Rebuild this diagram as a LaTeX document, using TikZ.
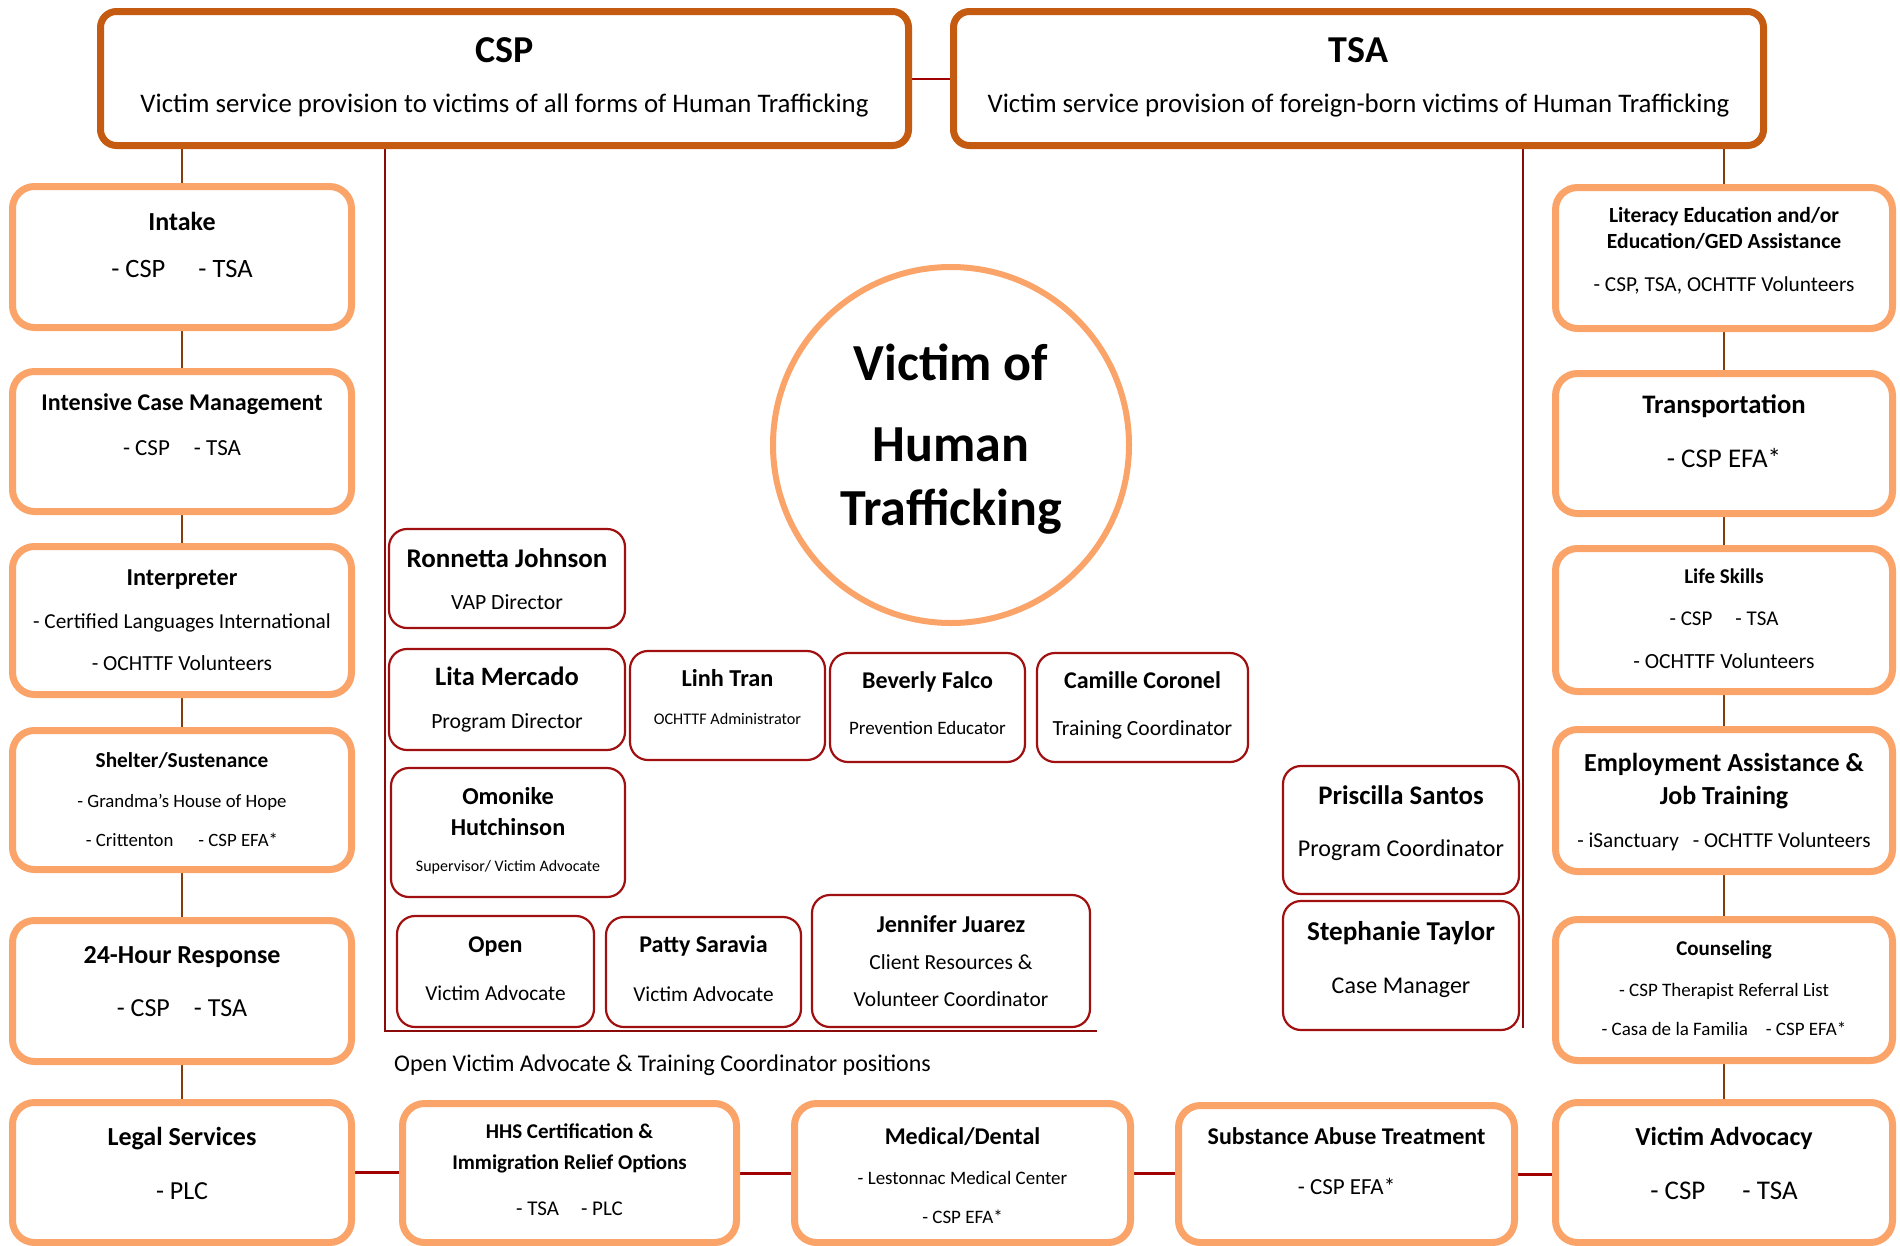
\documentclass[tikz,border=0pt]{standalone}
\usepackage{fontspec}
\setmainfont{Carlito}
\usetikzlibrary{backgrounds}
\definecolor{topc}{HTML}{C55A11}
\definecolor{svcc}{HTML}{FAA46A}
\definecolor{staffc}{HTML}{A01010}
\definecolor{redc}{HTML}{A00000}
\definecolor{framec}{HTML}{8B0A0A}
\definecolor{brownc}{HTML}{843C0C}
\tikzset{
 topbox/.style={draw=topc, line width=7pt, rounded corners=16pt, fill=white, inner sep=0pt, outer sep=0pt},
 svcbox/.style={draw=svcc, line width=7pt, rounded corners=22pt, fill=white, inner sep=0pt, outer sep=0pt},
 staffbox/.style={draw=staffc, line width=2.2pt, rounded corners=18pt, fill=white, inner sep=0pt, outer sep=0pt},
 txt/.style={inner sep=0pt, anchor=base, text=black},
 brownline/.style={draw=brownc, line width=2.5pt},
 redline/.style={draw=redc, line width=3pt},
 frameline/.style={draw=framec, line width=2pt},
}
\newcommand\mkbox[7]{\node[#1, minimum width={#6-#4-#2}, minimum height={#7-#5-#2}] (#3) at ({(#4+#6)/2},{(#5+#7)/2}) {};}
\newcommand\mktext[5]{\node[txt, font=\fontsize{#4}{#4}\selectfont] (#1) at ({#2},{#3+0.32*#4}) {#5};}
\begin{document}
\begin{tikzpicture}[x=1pt,y=-1pt]
\useasboundingbox (0,0) rectangle (1900,1245);
% top boxes
\mkbox{topbox}{7}{csp}{97}{8}{912}{149}
\mkbox{topbox}{7}{tsa}{950}{8}{1767}{149}
% left column
\mkbox{svcbox}{7}{intake}{9}{183}{355}{331}
\mkbox{svcbox}{7}{icm}{9}{368}{355}{515}
\mkbox{svcbox}{7}{interp}{9}{543}{355}{698}
\mkbox{svcbox}{7}{shelter}{9}{727}{355}{873}
\mkbox{svcbox}{7}{resp}{9}{917}{355}{1065}
\mkbox{svcbox}{7}{legal}{9}{1099}{355}{1246}
% right column
\mkbox{svcbox}{7}{lit}{1552}{184}{1896}{332}
\mkbox{svcbox}{7}{trans}{1552}{370}{1896}{517}
\mkbox{svcbox}{7}{life}{1552}{545}{1896}{695}
\mkbox{svcbox}{7}{emp}{1552}{726}{1896}{875}
\mkbox{svcbox}{7}{couns}{1552}{916}{1896}{1064}
\mkbox{svcbox}{7}{va}{1552}{1099}{1896}{1246}
% bottom row
\mkbox{svcbox}{7}{hhs}{399}{1100}{740}{1246}
\mkbox{svcbox}{7}{med}{791}{1100}{1134}{1246}
\mkbox{svcbox}{7}{subst}{1175}{1102}{1518}{1246}
% centre circle
\node[circle, draw=svcc, line width=6pt, minimum size=356pt, inner sep=0pt, fill=white] (victim) at (951,445) {};
% staff
\mkbox{staffbox}{2}{ron}{388}{528}{626}{629}
\mkbox{staffbox}{2}{lita}{388}{648}{626}{751}
\mkbox{staffbox}{2}{linh}{629}{650}{826}{761}
\mkbox{staffbox}{2}{bev}{829}{652}{1026}{763}
\mkbox{staffbox}{2}{cam}{1036}{652}{1249}{763}
\mkbox{staffbox}{2}{omo}{390}{767}{626}{898}
\mkbox{staffbox}{2}{open}{396}{915}{595}{1028}
\mkbox{staffbox}{2}{patty}{605}{916}{802}{1028}
\mkbox{staffbox}{2}{jen}{811}{894}{1091}{1028}
\mkbox{staffbox}{2}{pri}{1282}{765}{1520}{895}
\mkbox{staffbox}{2}{steph}{1282}{900}{1520}{1031}
% connectors
\coordinate (fbl) at (385,1031);
\coordinate (fbr) at (1097,1031);
\coordinate (frb) at (1523,1028);
\begin{pgfonlayer}{background}
\draw[redline, line width=2pt] (csp.east) -- (tsa.west);
\draw[brownline] (intake.north |- csp.south) -- (intake.north);
\draw[brownline] (intake.south) -- (icm.north);
\draw[brownline] (icm.south) -- (interp.north);
\draw[brownline] (interp.south) -- (shelter.north);
\draw[brownline] (shelter.south) -- (resp.north);
\draw[brownline] (resp.south) -- (legal.north);
\draw[brownline] (lit.north |- tsa.south) -- (lit.north);
\draw[brownline] (lit.south) -- (trans.north);
\draw[brownline] (trans.south) -- (life.north);
\draw[brownline] (life.south) -- (emp.north);
\draw[brownline] (emp.south) -- (couns.north);
\draw[brownline] (couns.south) -- (va.north);
\draw[redline] (legal.east) -- (legal.east -| hhs.west);
\draw[redline] (hhs.east) -- (hhs.east -| med.west);
\draw[redline] (med.east) -- (med.east -| subst.west);
\draw[redline] (subst.east) -- (subst.east -| va.west);
\draw[frameline] (fbl |- csp.south) -- (fbl) -- (fbr);
\draw[frameline] (frb |- tsa.south) -- (frb);
\end{pgfonlayer}
% texts: top
\mktext{tcsp}{504.5}{50}{38}{\bfseries CSP}
\mktext{tcsp2}{504.5}{104}{26.8}{Victim service provision to victims of all forms of Human Trafficking}
\mktext{ttsa}{1358.5}{50}{38}{\bfseries TSA}
\mktext{ttsa2}{1358.5}{104}{26.8}{Victim service provision of foreign-born victims of Human Trafficking}
% left column
\mktext{t1a}{182}{222}{26}{\bfseries Intake}
\mktext{t1b}{182}{269}{26.5}{- CSP\hspace{33pt}- TSA}
\mktext{t2a}{182}{403}{24}{\bfseries Intensive Case Management}
\mktext{t2b}{182}{448}{23}{- CSP\hspace{24pt}- TSA}
\mktext{t3a}{182}{578}{24.3}{\bfseries Interpreter}
\mktext{t3b}{182}{622}{21.3}{- Certified Languages International}
\mktext{t3c}{182}{664}{21.5}{- OCHTTF Volunteers}
\mktext{t4a}{182}{761}{21.3}{\bfseries Shelter/Sustenance}
\mktext{t4b}{182}{801}{18.8}{- Grandma’s House of Hope}
\mktext{t4c}{182}{840}{18.8}{- Crittenton\hspace{25pt}- CSP EFA*}
\mktext{t5a}{182}{955}{26}{\bfseries 24-Hour Response}
\mktext{t5b}{182}{1008}{26}{- CSP\hspace{24pt}- TSA}
\mktext{t6a}{182}{1137}{26}{\bfseries Legal Services}
\mktext{t6b}{182}{1191}{26}{- PLC}
% right column
\mktext{r1a}{1724}{216}{21.6}{\bfseries Literacy Education and/or}
\mktext{r1b}{1724}{242}{21.6}{\bfseries Education/GED Assistance}
\mktext{r1c}{1724}{285}{21.3}{- CSP, TSA, OCHTTF Volunteers}
\mktext{r2a}{1724}{405}{26.7}{\bfseries Transportation}
\mktext{r2b}{1724}{459}{27}{- CSP EFA*}
\mktext{r3a}{1724}{577}{21}{\bfseries Life Skills}
\mktext{r3b}{1724}{619}{21}{- CSP\hspace{23pt}- TSA}
\mktext{r3c}{1724}{662}{21.6}{- OCHTTF Volunteers}
\mktext{r4a}{1724}{763}{26}{\bfseries Employment Assistance \&}
\mktext{r4b}{1724}{796}{26}{\bfseries Job Training}
\mktext{r4c}{1724}{841}{21.2}{- iSanctuary\hspace{14pt}- OCHTTF Volunteers}
\mktext{r5a}{1724}{949}{21}{\bfseries Counseling}
\mktext{r5b}{1724}{990}{19}{- CSP Therapist Referral List}
\mktext{r5c}{1724}{1029}{19}{- Casa de la Familia\hspace{18pt}- CSP EFA*}
\mktext{r6a}{1724}{1137}{26}{\bfseries Victim Advocacy}
\mktext{r6b}{1724}{1191}{27}{- CSP\hspace{37pt}- TSA}
% bottom row
\mktext{b1a}{569.5}{1132}{21}{\bfseries HHS Certification \&}
\mktext{b1b}{569.5}{1163}{21}{\bfseries Immigration Relief Options}
\mktext{b1c}{569.5}{1209}{21}{- TSA\hspace{22pt}- PLC}
\mktext{b2a}{962.5}{1137}{24}{\bfseries Medical/Dental}
\mktext{b2b}{962.5}{1178}{19}{- Lestonnac Medical Center}
\mktext{b2c}{962.5}{1217}{19}{- CSP EFA*}
\mktext{b3a}{1346.5}{1137}{24}{\bfseries Substance Abuse Treatment}
\mktext{b3b}{1346.5}{1187}{23}{- CSP EFA*}
% circle
\mktext{c1}{951}{364}{52}{\bfseries Victim of}
\mktext{c2}{951}{445}{52}{\bfseries Human}
\mktext{c3}{951}{509}{52}{\bfseries Trafficking}
% staff texts
\mktext{s1a}{507}{559}{27}{\bfseries Ronnetta Johnson}
\mktext{s1b}{507}{603}{21.7}{VAP Director}
\mktext{s2a}{507}{677}{26.5}{\bfseries Lita Mercado}
\mktext{s2b}{507}{722}{21.7}{Program Director}
\mktext{s3a}{727.5}{679}{24.3}{\bfseries Linh Tran}
\mktext{s3b}{727.5}{719}{16.2}{OCHTTF Administrator}
\mktext{s4a}{927.5}{681}{24}{\bfseries Beverly Falco}
\mktext{s4b}{927.5}{728}{19}{Prevention Educator}
\mktext{s5a}{1142.5}{681}{24}{\bfseries Camille Coronel}
\mktext{s5b}{1142.5}{729}{21.6}{Training Coordinator}
\mktext{s6a}{508}{797}{24.3}{\bfseries Omonike}
\mktext{s6b}{508}{828}{24.3}{\bfseries Hutchinson}
\mktext{s6c}{508}{866}{16}{Supervisor/ Victim Advocate}
\mktext{s7a}{495.5}{945}{24}{\bfseries Open}
\mktext{s7b}{495.5}{994}{21.3}{Victim Advocate}
\mktext{s8a}{703.5}{945}{24}{\bfseries Patty Saravia}
\mktext{s8b}{703.5}{995}{21.3}{Victim Advocate}
\mktext{s9a}{951}{925}{24.2}{\bfseries Jennifer Juarez}
\mktext{s9b}{951}{963}{21.5}{Client Resources \&}
\mktext{s9c}{951}{1000}{21.4}{Volunteer Coordinator}
\mktext{s10a}{1401}{796}{26.8}{\bfseries Priscilla Santos}
\mktext{s10b}{1401}{849}{24.1}{Program Coordinator}
\mktext{s11a}{1401}{932}{27.2}{\bfseries Stephanie Taylor}
\mktext{s11b}{1401}{986}{24}{Case Manager}
\node[txt, anchor=base west, font=\fontsize{24}{24}\selectfont] (note) at (394,{1064+0.32*24}) {Open Victim Advocate \& Training Coordinator positions};
\end{tikzpicture}
\end{document}
